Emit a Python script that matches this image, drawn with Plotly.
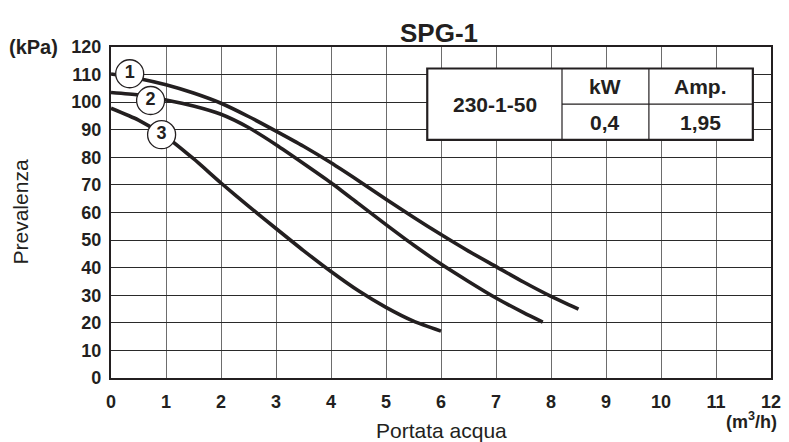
import plotly.graph_objects as go

# ---- data ----
x_curve1 = [0, 0.5, 1, 1.5, 2, 2.5, 3, 3.5, 4, 4.5, 5, 5.5, 6, 6.5, 7, 7.5, 8, 8.5]
y_curve1 = [110.2, 108.6, 106.3, 103.3, 99.6, 94.8, 89.5, 84, 78, 71.5, 64.8, 58.3, 52, 46, 40.4, 34.8, 29.6, 25]

x_curve2 = [0, 0.5, 1, 1.5, 2, 2.5, 3, 3.5, 4, 4.5, 5, 5.5, 6, 6.5, 7, 7.5, 7.85]
y_curve2 = [103.5, 102.6, 100.8, 98.6, 95.6, 90.8, 84.6, 77.8, 70.8, 63.2, 55.6, 48.2, 41.3, 35, 29, 23.7, 20.3]

x_curve3 = [0, 0.5, 1, 1.5, 2, 2.5, 3, 3.5, 4, 4.5, 5, 5.5, 6]
y_curve3 = [97.8, 93.5, 87.5, 79.5, 70.7, 62.3, 54.2, 46.2, 38.6, 31.6, 25.6, 20.6, 17]

label_names = ["1", "2", "3"]
label_x = [0.34, 0.72, 0.92]
label_y = [110.3, 100.6, 88.2]

x_ticks = list(range(0, 13))
y_ticks = list(range(0, 121, 10))

title_text = "SPG-1"
table_supply = "230-1-50"
table_headers = ["kW", "Amp."]
table_values = ["0,4", "1,95"]

FONT = "Liberation Sans, Arial, sans-serif"
INK = "#231f20"

fig = go.Figure()
for xs, ys in [(x_curve1, y_curve1), (x_curve2, y_curve2), (x_curve3, y_curve3)]:
    fig.add_trace(go.Scatter(x=xs, y=ys, mode="lines",
                             line=dict(color=INK, width=3.6, shape="spline", smoothing=0.6),
                             hoverinfo="skip", showlegend=False))

fig.add_trace(go.Scatter(x=label_x, y=label_y, mode="markers+text", text=label_names,
                         textposition="middle center",
                         textfont=dict(family=FONT, size=18, color=INK, weight="bold"),
                         marker=dict(size=28, color="white", line=dict(color=INK, width=1.3)),
                         hoverinfo="skip", showlegend=False))

# table (data coordinates)
tx0, tx1, tx2, tx3 = 5.75, 8.2, 9.78, 11.67
ty0, ty1, ty2 = 86.3, 99.3, 112.2
fig.add_shape(type="rect", x0=tx0, x1=tx3, y0=ty0, y1=ty2, fillcolor="white",
              line=dict(color=INK, width=2.2), layer="above")
fig.add_shape(type="line", x0=tx1, x1=tx1, y0=ty0, y1=ty2, line=dict(color=INK, width=1.2), layer="above")
fig.add_shape(type="line", x0=tx2, x1=tx2, y0=ty0, y1=ty2, line=dict(color=INK, width=1.2), layer="above")
fig.add_shape(type="line", x0=tx1, x1=tx3, y0=ty1, y1=ty1, line=dict(color=INK, width=1.2), layer="above")

tfont = dict(family=FONT, size=21, color=INK, weight="bold")
fig.add_annotation(x=(tx0 + tx1) / 2, y=(ty0 + ty2) / 2, text=table_supply, showarrow=False, font=tfont)
fig.add_annotation(x=(tx1 + tx2) / 2, y=(ty1 + ty2) / 2, text=table_headers[0], showarrow=False, font=tfont)
fig.add_annotation(x=(tx2 + tx3) / 2, y=(ty1 + ty2) / 2, text=table_headers[1], showarrow=False, font=tfont)
fig.add_annotation(x=(tx1 + tx2) / 2, y=(ty0 + ty1) / 2, text=table_values[0], showarrow=False, font=tfont)
fig.add_annotation(x=(tx2 + tx3) / 2, y=(ty0 + ty1) / 2, text=table_values[1], showarrow=False, font=tfont)

# paper-positioned texts
fig.add_annotation(xref="paper", yref="paper", x=0.497, y=1.0, yshift=14, text=title_text, showarrow=False,
                   font=dict(family=FONT, size=26, color=INK, weight="bold"), xanchor="center", yanchor="middle")
fig.add_annotation(xref="paper", yref="paper", x=0, y=1.0, xshift=-51, text="(kPa)", showarrow=False,
                   font=dict(family=FONT, size=20, color=INK, weight="bold"), xanchor="right", yanchor="middle")
fig.add_annotation(xref="paper", yref="paper", x=0.97, y=0, yshift=-42, text="(m<sup>3</sup>/h)", showarrow=False,
                   font=dict(family=FONT, size=18, color=INK, weight="bold"), xanchor="center", yanchor="middle")
fig.add_annotation(xref="paper", yref="paper", x=0.5, y=0, yshift=-52, text="Portata acqua", showarrow=False,
                   font=dict(family=FONT, size=21, color=INK), xanchor="center", yanchor="middle")
fig.add_annotation(xref="paper", yref="paper", x=0, y=0.5, xshift=-91, text="Prevalenza", showarrow=False,
                   textangle=-90, font=dict(family=FONT, size=21, color=INK), xanchor="center", yanchor="middle")

fig.update_xaxes(range=[0, 12], tickvals=x_ticks, ticktext=[str(v) for v in x_ticks],
                 showgrid=True, gridcolor="#6d6d6d", gridwidth=1.2,
                 showline=True, linecolor=INK, linewidth=2.4, mirror=True,
                 ticks="outside", ticklen=6, tickcolor="rgba(0,0,0,0)", zeroline=False, automargin=False,
                 tickfont=dict(family=FONT, size=18, color=INK, weight="bold"))
fig.update_yaxes(range=[0, 120], tickvals=y_ticks, ticktext=[str(v) for v in y_ticks],
                 showgrid=True, gridcolor="#2a2a2a", gridwidth=1,
                 showline=True, linecolor=INK, linewidth=2.4, mirror=True,
                 ticks="outside", ticklen=4, tickcolor="rgba(0,0,0,0)", zeroline=False, automargin=False,
                 tickfont=dict(family=FONT, size=18, color=INK, weight="bold"))

# page body adds an 8px offset; size the figure so the plot area lands where the reference has it
fig.update_layout(width=781, height=434, margin=dict(l=103, r=18, t=39, b=64),
                  plot_bgcolor="white", paper_bgcolor="white", showlegend=False)

fig.write_html("out.html")
